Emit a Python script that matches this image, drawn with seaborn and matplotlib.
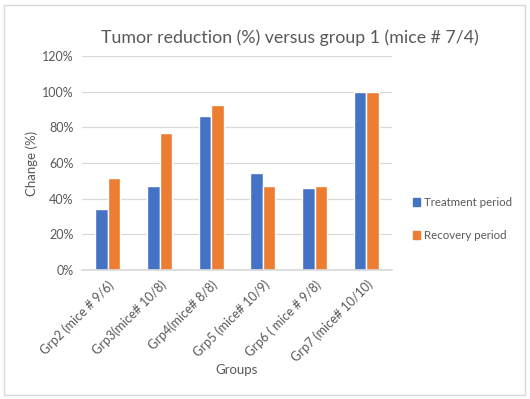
import matplotlib
matplotlib.use("Agg")
import matplotlib.pyplot as plt
import seaborn as sns
import pandas as pd
from matplotlib.patches import Rectangle, Patch
from matplotlib.ticker import PercentFormatter

groups = ["Grp2 (mice # 9/6)", "Grp3(mice# 10/8)", "Grp4(mice# 8/8)",
          "Grp5 (mice# 10/9)", "Grp6 ( mice # 9/8)", "Grp7 (mice# 10/10)"]
treatment = [34.3, 47.0, 86.3, 54.3, 46.0, 100.0]
recovery = [51.6, 76.7, 92.4, 47.0, 47.0, 100.0]
series = ["Treatment period", "Recovery period"]
colors = ["#4472C4", "#ED7D31"]

df = pd.DataFrame({
    "Group": groups * 2,
    "Series": [series[0]] * len(groups) + [series[1]] * len(groups),
    "Value": treatment + recovery,
})

sns.set_theme(style="white")
plt.rcParams["font.family"] = ["Lato", "DejaVu Sans"]
txt = "#595959"

fig = plt.figure(figsize=(5.3, 3.99), dpi=100)
ax = fig.add_axes([82 / 530, 1 - 270 / 399, 310 / 530, 214 / 399])
sns.barplot(data=df, x="Group", y="Value", hue="Series", palette=colors,
            width=0.48, ax=ax, legend=False, saturation=1, gap=0)

ax.set_ylim(0, 120)
ax.set_yticks(range(0, 121, 20))
ax.yaxis.set_major_formatter(PercentFormatter(decimals=0))
ax.grid(axis="y", color="#D9D9D9", linewidth=0.9)
ax.set_axisbelow(True)
for s in ["top", "right", "left"]:
    ax.spines[s].set_visible(False)
ax.spines["bottom"].set_color("#D9D9D9")
ax.tick_params(axis="both", length=0, colors=txt, labelsize=9, pad=6)
plt.setp(ax.get_xticklabels(), rotation=45, ha="right", rotation_mode="anchor")
ax.set_xlabel("Groups", color=txt, fontsize=9.5)
ax.set_ylabel("Change (%)", color=txt, fontsize=9.5)
ax.xaxis.set_label_coords(0.5, -0.44)
ax.yaxis.set_label_coords(-0.142, 0.5)

fig.suptitle("Tumor reduction (%) versus group 1 (mice # 7/4)", x=290 / 530,
             y=1 - 29 / 399, color=txt, fontsize=12.8)

handles = [Patch(color=c, label=s) for c, s in zip(colors, series)]
fig.legend(handles=handles, loc="center left", bbox_to_anchor=(403 / 530, 1 - 219 / 399),
           frameon=False, handlelength=0.6, handleheight=0.6, handletextpad=0.35,
           labelspacing=1.9, fontsize=8.3, labelcolor=txt)

fig.patches.append(Rectangle((4 / 530, 4 / 399), 521 / 530, 390 / 399,
                             transform=fig.transFigure, fill=False,
                             edgecolor="#D9D9D9", linewidth=1))
fig.savefig("out.png", dpi=100)
